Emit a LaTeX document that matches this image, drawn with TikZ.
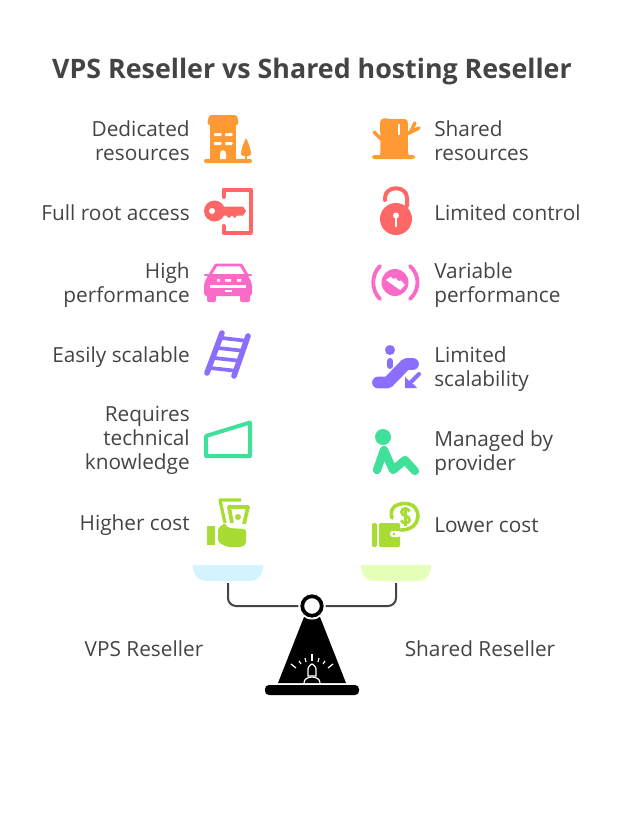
\documentclass[tikz,border=0pt]{standalone}
\usepackage{fontspec}
\setmainfont{Open Sans}
\usetikzlibrary{calc,positioning}
\definecolor{inkgrey}{HTML}{444444}
\definecolor{iconorange}{HTML}{FF9933}
\definecolor{iconred}{HTML}{FF6666}
\definecolor{iconpink}{HTML}{FA6BC8}
\definecolor{iconpurple}{HTML}{8C6EFF}
\definecolor{icongreen}{HTML}{3FE09A}
\definecolor{iconlime}{HTML}{A8DC33}
\definecolor{panblue}{HTML}{D3F3FF}
\definecolor{panlime}{HTML}{E6FFB8}
\tikzset{
	lbl/.style={inkgrey, font=\fontsize{15.6}{18}\selectfont, inner sep=0pt},
	lblL/.style={lbl, anchor=east, align=right, yshift=-.6pt},
	lblR/.style={lbl, anchor=west, align=left, yshift=-.6pt},
	ttl/.style={inkgrey, font=\fontsize{20.1}{24}\selectfont\bfseries, inner sep=0pt},
	arm/.style={inkgrey, line width=1.5pt, rounded corners=6pt},
	ray/.style={white, line width=.9pt},
	stick/.style={line width=#1, line cap=round, line join=round}
}
\begin{document}
\begin{tikzpicture}[x=.75pt, y=-.75pt]
	\useasboundingbox (0,0) rectangle (624,828);
	\node[ttl] (title) at (312,72) {VPS Reseller vs Shared hosting Reseller};

	\node[lblL] (dedicated) at (190,140) {Dedicated\\resources};
	\node[lblL] (rootaccess) at (190,212) {Full root access};
	\node[lblL] (highperf) at (190,284) {High\\performance};
	\node[lblL] (scalable) at (190,356) {Easily scalable};
	\node[lblL] (technical) at (190,440) {Requires\\technical\\knowledge};
	\node[lblL] (highcost) at (190,524) {Higher cost};
	\node[lblR] (shared) at (434,140) {Shared\\resources};
	\node[lblR] (control) at (434,212) {Limited control};
	\node[lblR] (varperf) at (434,284) {Variable\\performance};
	\node[lblR] (limscale) at (434,368) {Limited\\scalability};
	\node[lblR] (managed) at (434,452) {Managed by\\provider};
	\node[lblR] (lowcost) at (434,524) {Lower cost};
	\node[lbl] (vps) at (144,649) {VPS Reseller};
	\node[lbl] (sharedres) at (480,649) {Shared Reseller};

	% building
	\fill[iconorange, rounded corners=1.5pt] (204,159) rectangle (252,163);
	\fill[iconorange] (210,124) rectangle (236,160);
	\fill[iconorange, rounded corners=2pt] (207,125) -- (209,115) -- (237,115) -- (239,125) -- cycle;
	\fill[iconorange] (246,138) .. controls (243,144) and (241,150) .. (241,154) .. controls (241,157) and (251,157) .. (251,154) .. controls (251,150) and (249,144) .. (246,138) -- cycle;
	\draw[iconorange, line width=1pt] (246,154) -- (246,160);
	\foreach \wx in {214,225}
		\foreach \wy in {133,142}
			\fill[white, rounded corners=.7pt] (\wx,\wy) rectangle ++(7.5,3);
	\fill[white] (220,159) -- (220,154) .. controls (220,149) and (226,149) .. (226,154) -- (226,159) -- cycle;

	% key
	\draw[iconred, line width=3pt, line cap=round, line join=round] (223.5,197) -- (223.5,189.5) -- (250.5,189.5) -- (250.5,232.5) -- (223.5,232.5) -- (223.5,226);
	\fill[iconred] (214.5,211) circle (10.5);
	\fill[iconred] (218,206.5) -- (243,206.5) -- (246,211) -- (243,215.5) -- (237,215.5) -- (235,218) -- (232,215.5) -- (229,218) -- (226,215.5) -- (218,215.5) -- cycle;
	\fill[white] (212,211) circle (3);

	% car
	\draw[iconpink, line width=2.2pt, line join=round] (210,275) -- (216,265) -- (241,265) -- (247,275);
	\draw[iconpink, stick=2pt] (205,275) -- (210,275) (246,275) -- (251,275);
	\fill[iconpink, rounded corners=2pt] (209,274) -- (247,274) -- (250,279) -- (252,284) -- (252,296) -- (204,296) -- (204,284) -- (206,279) -- cycle;
	\fill[iconpink, rounded corners=1.5pt] (207,292) rectangle (216,302);
	\fill[iconpink, rounded corners=1.5pt] (240,292) rectangle (250,302);
	\fill[white] (217,279) rectangle (220,281.5) (225,279) rectangle (231,281.5) (237,279) rectangle (241,281.5);
	\fill[white] (210,285) rectangle (246,287.5);
	\fill[white] (225,290) rectangle (232,292);

	% ladder
	\coordinate (railA) at (222,333);
	\coordinate (railB) at (207,373);
	\coordinate (railC) at (248,336);
	\coordinate (railD) at (234,376);
	\draw[iconpurple, stick=4.2pt] (railA) -- (railB) (railC) -- (railD);
	\foreach \t in {.12,.37,.62,.87}
		\draw[iconpurple, line width=2.8pt] ($(railA)!\t!(railB)$) -- ($(railC)!\t!(railD)$);

	% ramp
	\draw[icongreen, line width=3pt, line join=round] (206,436) -- (250,422.5) -- (250,456) -- (206,456) -- cycle;

	% money hand
	\fill[iconlime] (207,526) rectangle (215,545);
	\fill[iconlime, rounded corners=1.5pt] (218,528) -- (225,523) -- (228,528) -- (246,529) -- (246,544) -- (242,547) -- (227,547) -- (218,542) -- cycle;
	\draw[iconlime, line width=2.4pt, line join=round] (241,500) -- (220,500) -- (225,523);
	\draw[iconlime, line width=2.8pt, line join=round] (232,523) -- (229,507) -- (248,507) -- (244,524);
	\fill[iconlime] (238,517) circle (3);

	% stump
	\fill[iconorange, rounded corners=2pt] (372,155) rectangle (415,159);
	\fill[iconorange] (380,156) .. controls (381,150) and (380,125) .. (380,123) .. controls (380,117) and (386,118) .. (390,119) -- (404,119) .. controls (408,119) and (408,122) .. (408,125) .. controls (408,140) and (407,150) .. (409,156) -- cycle;
	\draw[iconorange, stick=2.6pt] (374,132) -- (381,139) (407,134) -- (419,128) (411,131) -- (415,123);
	\fill[white] (397.5,124) rectangle (399.5,135);

	% lock
	\draw[iconred, stick=3pt] (385,200) -- (385,198) .. controls (385,185) and (407,185) .. (407,198) -- (407,206);
	\fill[iconred] (396,219) circle (16);
	\fill[white] (396,215.5) circle (3);
	\fill[white] (394.7,216) rectangle (397.3,227);

	% gauge
	\draw[iconpink, stick=2.9pt] (380,266) .. controls (371,275) and (371,290) .. (380,299);
	\draw[iconpink, stick=2.9pt] (410,266) .. controls (420,275) and (420,290) .. (410,299);
	\fill[iconpink] (395,282.5) circle (13.5);
	\fill[white] (386,280) -- (391,276.5) -- (393,279) -- (396,278) -- (398,281) -- (401,280.5) -- (405,285) -- (400,290) -- cycle;

	% escalator
	\fill[iconpurple] (390,350) circle (5);
	\draw[iconpurple, stick=4.5pt] (390,361) -- (390,366);
	\draw[iconpurple, stick=8.8pt] (378,382.5) -- (388,382.5) -- (406,364) -- (413,364);
	\draw[iconpurple, stick=3pt] (419,374) -- (407,386);
	\fill[iconpurple] (405,377) -- (405,388) -- (417,388) -- (413,384) -- (409,381) -- cycle;

	% person
	\fill[icongreen] (383,437) circle (8);
	\draw[icongreen, stick=6.2pt] (377,470) -- (384,450) -- (393,470) -- (405,460) -- (415,471);

	% wallet
	\fill[iconlime, rounded corners=1pt] (372,523) rectangle (377,547);
	\fill[iconlime, rounded corners=1pt] (379,523) rectangle (400,547);
	\fill[white, rounded corners=2pt] (390,531) rectangle (401,537);
	\fill[iconlime] (394,534) circle (1.5);
	\draw[iconlime, stick=2.7pt] (392,518) .. controls (389,508) and (396,503.5) .. (405,503.5) .. controls (423,503.5) and (423,530) .. (401,530);
	\draw[iconlime, line width=2.2pt] (409.5,511.5) .. controls (408,507.5) and (401.5,507.5) .. (401.5,512) .. controls (401.5,516.5) and (409.5,514.5) .. (409.5,520) .. controls (409.5,524) and (403,524) .. (401,520.5);
	\draw[iconlime, line width=1.7pt] (405.5,506.5) -- (405.5,526);

	% balance
	\fill[panblue] (193,565) -- (263,565) .. controls (263,575) and (258,581) .. (249,581) -- (207,581) .. controls (198,581) and (193,575) .. (193,565) -- cycle;
	\fill[panlime] (361,565) -- (431,565) .. controls (431,575) and (426,581) .. (417,581) -- (375,581) .. controls (366,581) and (361,575) .. (361,565) -- cycle;
	\coordinate (panL) at (228,583);
	\coordinate (panR) at (396,583);
	\fill[black] (304,617) -- (320,617) -- (346,683) -- (278,683) -- cycle;
	\fill[black, rounded corners=3pt] (265,695) -- (265,685) -- (359,685) -- (359,695) -- cycle;
	\fill[white] (312,606) circle (13.5);
	\node[circle, draw=black, fill=white, line width=2.8pt, minimum size=14.6pt, inner sep=0pt, outer sep=3pt] (pivot) at (312,606) {};
	\draw[arm] (panL) |- (pivot);
	\draw[arm] (panR) |- (pivot);
	\draw[ray] (304,683) .. controls (304,675) and (320,675) .. (320,683);
	\draw[ray] (308,676) -- (308,669) .. controls (308,667) and (311,664) .. (312,664) .. controls (313,664) and (316,667) .. (316,669) -- (316,676) -- cycle;
	\foreach \rx/\ry/\sx/\sy in {312/654/312/661, 305/658/306/662, 299/661/301/664, 291/664/296/668, 319/658/318/662, 325/661/323/664, 333/664/328/668}
		\draw[ray] (\rx,\ry) -- (\sx,\sy);
\end{tikzpicture}
\end{document}
